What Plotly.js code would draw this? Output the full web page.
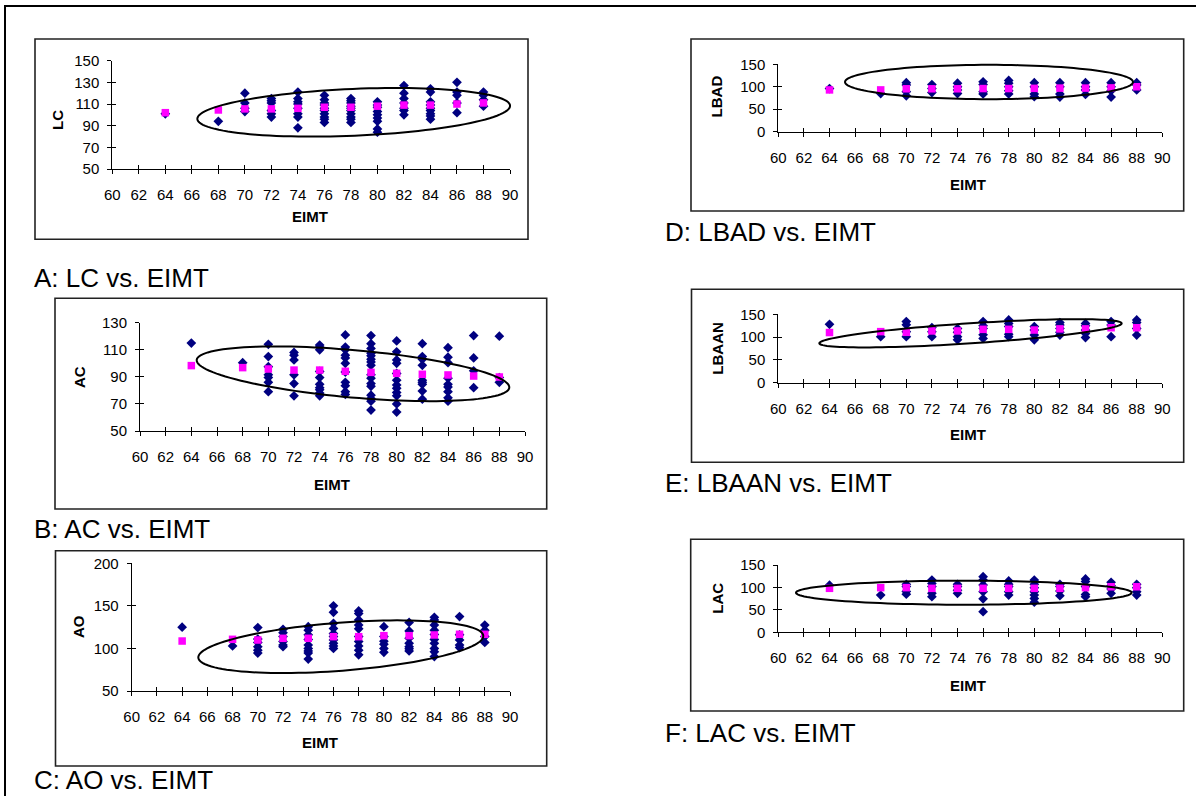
<!DOCTYPE html>
<html>
<head>
<meta charset="utf-8">
<script src="https://cdn.plot.ly/plotly-3.0.1.min.js"></script>
<style>html,body{margin:0;padding:0;background:#fff;}#chart{width:1196px;height:796px;}</style>
</head>
<body>
<div id="chart"></div>
<script>
// ---------- DATA ----------
const eimtLevels = [64, 68, 70, 72, 74, 76, 78, 80, 82, 84, 86, 88];

const lcValues = [
  [101], [94], [120, 111, 106, 103], [115, 113, 111, 104, 101, 98],
  [121, 115, 112, 110, 106, 101, 98, 88],
  [118, 114, 111, 109, 106, 104, 101, 98, 96, 93],
  [115, 113, 111, 108, 106, 104, 101, 98, 96, 93],
  [112, 109, 107, 103, 100, 97, 94, 87, 84],
  [127, 120, 115, 111, 106, 104, 100],
  [124, 121, 112, 109, 106, 104, 101, 99, 96],
  [130, 121, 118, 111, 102], [121, 118, 114, 108]
];
const lcMeans = [102, 104.5, 105.5, 105.5, 106, 107, 107, 108, 109, 109, 110, 111];

const acValues = [
  [115], [100.5], [114, 105, 97.5, 91.5, 89.5, 86, 79], [108, 106, 102.5, 91.5, 85, 76],
  [113.5, 112, 110, 94, 89.5, 84.5, 82, 80.5, 78, 76],
  [121, 112, 110, 106, 104, 100, 93.5, 86, 83.5, 79, 77],
  [120.5, 114.5, 111, 107.5, 105.5, 103, 101, 98.5, 91.5, 89, 85, 83, 76.5, 74, 72, 65.5],
  [116.5, 108.5, 102.5, 100, 92.5, 87.5, 84, 81.5, 78.5, 76, 70, 64],
  [114.5, 105, 103, 98.5, 87.5, 86, 84.5, 79.5, 73.5],
  [111.5, 104.5, 100.5, 89, 84.5, 82.5, 79, 74.5, 72],
  [120.5, 104, 94.5, 82], [120, 89.5, 86]
];
const acMeans = [98.3, 96.8, 95.8, 95, 95, 94.1, 93.3, 92.6, 91.9, 91.4, 90.6, 89.9];

const aoValues = [
  [125], [103], [124.5, 111, 107, 102, 98, 94.5], [122.5, 118.5, 114, 108, 104, 102],
  [125.5, 121.5, 116, 110.5, 104, 100, 97, 94.5, 87.5],
  [150, 142.5, 129.5, 123.5, 117.5, 114, 110, 106, 103, 100],
  [144, 141, 133.5, 127.5, 123, 114, 108, 103, 98, 92.5],
  [125.5, 114, 108.5, 105, 100, 95.5],
  [130.5, 120.5, 112, 106, 102, 99.5, 97],
  [136.5, 133.5, 127.5, 121.5, 116.5, 110.5, 106, 100, 96, 90.5],
  [137.5, 116, 110, 104, 101], [127.5, 121.5, 114, 107]
];
const aoMeans = [108.7, 110.7, 109.9, 111.9, 111.9, 113.8, 113.8, 115, 115, 115.8, 116.6, 116.6];

const lbadValues = [
  [96], [85], [109, 104, 89, 80], [105, 96, 87], [108, 100, 93, 85],
  [111, 105, 89, 84], [114, 108, 100, 91, 84], [109, 100, 84, 78],
  [109, 100, 84, 77], [109, 100, 93, 83], [109, 100, 91, 77], [109, 104, 93]
];
const lbadMeans = [93, 93, 95.5, 95.5, 95.5, 96, 96, 96.5, 97, 97, 97.5, 100];

const lbaanValues = [
  [128], [101], [134, 127, 112, 101], [121, 112, 101], [119, 110.5, 101, 94],
  [134, 125, 119, 105, 97], [137.5, 130, 123, 106, 101], [123, 115.5, 104.5, 94],
  [132, 126.5, 119, 110.5, 104.5], [130, 125, 115.5, 108, 99],
  [134, 126.5, 101], [137.5, 132, 119, 104.5]
];
const lbaanMeans = [110, 112, 110.5, 113.5, 113.5, 117, 117, 115.5, 118, 118, 120.5, 120.5];

const lacValues = [
  [105], [83], [107, 102, 91, 85], [116.5, 109, 102, 87, 79.5], [107, 102, 94, 87],
  [124, 116.5, 105.5, 90.5, 74.5, 46], [114.5, 107, 102, 90.5, 83],
  [116.5, 107, 99.5, 90.5, 83, 75.5, 67], [107, 102, 92, 81.5],
  [119, 113, 102, 84.5, 79.5], [111.5, 104, 96.5, 87], [107, 99.5, 90.5, 83]
];
const lacMeans = [98, 99.5, 99.5, 98, 98, 98, 98, 98, 98, 99.5, 101.5, 101.5];

const yTitles = ['LC', 'AC', 'AO', 'LBAD', 'LBAAN', 'LAC'];
const xTitle = 'EIMT';
const captions = ['A: LC vs. EIMT', 'B: AC vs. EIMT', 'C: AO vs. EIMT',
                  'D: LBAD vs. EIMT', 'E: LBAAN vs. EIMT', 'F: LAC vs. EIMT'];
const yRanges = [[50, 150], [50, 130], [50, 200], [0, 150], [0, 150], [0, 150]];
const yDticks = [20, 20, 50, 50, 50, 50];

const seriesValues = [lcValues, acValues, aoValues, lbadValues, lbaanValues, lacValues];
const seriesMeans = [lcMeans, acMeans, aoMeans, lbadMeans, lbaanMeans, lacMeans];

// ---------- LAYOUT (pixel geometry) ----------
const W = 1196, H = 796;
const PX = v => v / W;
const PY = v => 1 - v / H;
const FONT = 'Liberation Sans, Arial, sans-serif';

const panels = [
  {xa: [112.3, 510], ya: [169, 60.7], box: [35, 39, 528, 239.3], cap: [32, 278],
   yt: [58, 120], xt: [310, 216], ell: [353.7, 112.3, 156.5, 23.4, -2.44]},
  {xa: [140, 525], ya: [431, 322.7], box: [55, 298.3, 546.7, 509], cap: [32, 529],
   yt: [79, 377], xt: [332, 484], ell: [353, 373.8, 156.9, 23.7, 5.06]},
  {xa: [131.7, 510], ya: [691, 563.3], box: [55.5, 550.7, 546.7, 766], cap: [32, 780],
   yt: [78.3, 626.7], xt: [320, 742], ell: [340.8, 646.7, 142.9, 24, -4.41]},
  {xa: [778.3, 1162.3], ya: [131.7, 64.3], box: [691, 39, 1183.7, 211], cap: [663, 232],
   yt: [716.7, 96.7], xt: [968, 185], ell: [989, 82, 144, 17.2, 0]},
  {xa: [778.3, 1162.3], ya: [382.7, 314.3], box: [691.5, 289.3, 1183.7, 462.3], cap: [663, 483],
   yt: [716.7, 348], xt: [968, 435], ell: [970.5, 333.3, 151.5, 10, -3.78]},
  {xa: [778.3, 1162.3], ya: [632.3, 565], box: [690.7, 539.3, 1183.7, 711], cap: [663, 733],
   yt: [716.7, 598], xt: [968, 685], ell: [963.8, 592.7, 167.8, 12, 0]}
];

const data = [];
const layout = {
  width: W, height: H,
  margin: {l: 0, r: 0, t: 0, b: 0},
  paper_bgcolor: '#ffffff', plot_bgcolor: 'rgba(0,0,0,0)',
  showlegend: false,
  shapes: [], annotations: []
};

function ellipsePath(cx, cy, a, b, deg) {
  const th = deg * Math.PI / 180;
  let p = '';
  const n = 120;
  for (let i = 0; i <= n; i++) {
    const t = 2 * Math.PI * i / n;
    const X = cx + a * Math.cos(t) * Math.cos(th) - b * Math.sin(t) * Math.sin(th);
    const Y = cy + a * Math.cos(t) * Math.sin(th) + b * Math.sin(t) * Math.cos(th);
    p += (i === 0 ? 'M' : 'L') + PX(X).toFixed(5) + ',' + PY(Y).toFixed(5);
  }
  return p + 'Z';
}

// outer frame
layout.shapes.push({type: 'rect', xref: 'paper', yref: 'paper',
  x0: PX(5), y0: PY(6), x1: PX(1215), y1: PY(815),
  line: {color: '#000', width: 2}, layer: 'below'});

panels.forEach((p, i) => {
  const k = i + 1, ko = i + 7;
  const xr = 'x' + (k === 1 ? '' : k), yr = 'y' + (k === 1 ? '' : k);
  const xo = 'x' + ko, yo = 'y' + ko;
  const xDom = [PX(p.xa[0]), PX(p.xa[1])];
  const yDom = [PY(p.ya[0]), PY(p.ya[1])];

  const common = {showgrid: false, zeroline: false, fixedrange: true};
  layout['xaxis' + (k === 1 ? '' : k)] = Object.assign({
    domain: xDom, range: [60, 90], tick0: 60, dtick: 2, anchor: yr,
    ticks: 'outside', ticklen: 4, tickwidth: 1, tickcolor: '#000',
    showline: true, linecolor: '#000', linewidth: 1,
    tickfont: {family: FONT, size: 15, color: '#000'}, ticklabelstandoff: 8
  }, common);
  layout['yaxis' + (k === 1 ? '' : k)] = Object.assign({
    domain: yDom, range: yRanges[i], tick0: yRanges[i][0], dtick: yDticks[i], anchor: xr,
    ticks: 'outside', ticklen: 4, tickwidth: 1, tickcolor: '#000',
    showline: true, linecolor: '#000', linewidth: 1,
    tickfont: {family: FONT, size: 15, color: '#000'}, ticklabelstandoff: 5
  }, common);
  // overlay axes providing the inner half of the crossing tick marks
  layout['xaxis' + ko] = Object.assign({
    overlaying: xr, anchor: yr, range: [60, 90], tick0: 60, dtick: 2,
    ticks: 'inside', ticklen: 4, tickwidth: 1, tickcolor: '#000',
    showticklabels: false, showline: false
  }, common);
  layout['yaxis' + ko] = Object.assign({
    overlaying: yr, anchor: xr, range: yRanges[i], tick0: yRanges[i][0], dtick: yDticks[i],
    ticks: 'inside', ticklen: 4, tickwidth: 1, tickcolor: '#000',
    showticklabels: false, showline: false
  }, common);

  // individual points
  const vx = [], vy = [];
  seriesValues[i].forEach((arr, j) => arr.forEach(v => { vx.push(eimtLevels[j]); vy.push(v); }));
  data.push({type: 'scatter', mode: 'markers', x: vx, y: vy, xaxis: xr, yaxis: yr,
    marker: {symbol: 'diamond', size: 7.5, color: '#000080'}, hoverinfo: 'x+y', cliponaxis: false});
  // group means
  data.push({type: 'scatter', mode: 'markers', x: eimtLevels, y: seriesMeans[i], xaxis: xr, yaxis: yr,
    marker: {symbol: 'square', size: 7.5, color: '#FF00FF'}, hoverinfo: 'x+y', cliponaxis: false});
  // empty trace to activate overlay tick axes
  data.push({type: 'scatter', mode: 'markers', x: [], y: [], xaxis: xo, yaxis: yo, hoverinfo: 'skip'});

  // panel frame
  layout.shapes.push({type: 'rect', xref: 'paper', yref: 'paper',
    x0: PX(p.box[0]), y0: PY(p.box[3]), x1: PX(p.box[2]), y1: PY(p.box[1]),
    line: {color: '#222', width: 1.6}, layer: 'below'});
  // ellipse
  layout.shapes.push({type: 'path', xref: 'paper', yref: 'paper',
    path: ellipsePath(...p.ell), line: {color: '#000', width: 2}});

  // axis titles
  layout.annotations.push({xref: 'paper', yref: 'paper', x: PX(p.yt[0]), y: PY(p.yt[1]),
    text: '<b>' + yTitles[i] + '</b>', textangle: -90, showarrow: false,
    xanchor: 'center', yanchor: 'middle', font: {family: FONT, size: 15, color: '#000'}});
  layout.annotations.push({xref: 'paper', yref: 'paper', x: PX(p.xt[0]), y: PY(p.xt[1]),
    text: '<b>' + xTitle + '</b>', showarrow: false,
    xanchor: 'center', yanchor: 'middle', font: {family: FONT, size: 15, color: '#000'}});
  // caption
  layout.annotations.push({xref: 'paper', yref: 'paper', x: PX(p.cap[0]), y: PY(p.cap[1]),
    text: captions[i], showarrow: false,
    xanchor: 'left', yanchor: 'middle', font: {family: FONT, size: 26, color: '#000'}});
});

Plotly.newPlot('chart', data, layout, {displayModeBar: false, staticPlot: true});
</script>
</body>
</html>
